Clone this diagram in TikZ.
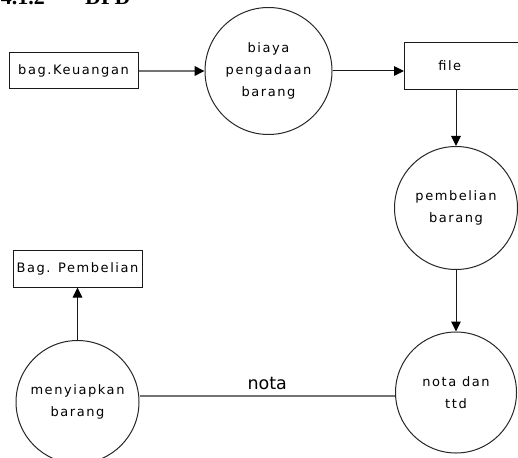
\documentclass[tikz,border=0pt]{standalone}
\usepackage{fontspec}
\setmainfont{DejaVu Sans}
\newfontfamily\dfdfont[LetterSpace=12]{DejaVu Sans}
\newfontfamily\headfont{Liberation Serif}
\usetikzlibrary{arrows.meta}

\begin{document}
\begin{tikzpicture}[x=1pt, y=-1pt,
  proc/.style={draw=black!85, line width=1pt, circle, inner sep=0pt,
    align=center, font=\dfdfont\fontsize{13}{22}\selectfont},
  ent/.style={draw=black!90, line width=1pt, rectangle, inner sep=0pt,
    minimum width=129pt, minimum height=36pt,
    font=\dfdfont\fontsize{13}{16}\selectfont},
  flow/.style={draw=black!90, line width=1pt,
    -{Triangle[length=10pt,width=9.5pt,black]}},
  link/.style={draw=black!55, line width=2pt}]

  \useasboundingbox (0,0) rectangle (518,457);

  % heading, only its lower edge shows
  \begin{scope}
    \clip (0,0) rectangle (518,457);
    \node[anchor=base east, inner sep=0pt,
      font=\headfont\bfseries\fontsize{22}{26}\selectfont] (hnum) at (45,5) {4.1.2};
    \node[anchor=base west, inner sep=0pt,
      font=\headfont\bfseries\fontsize{22}{26}\selectfont] (htitle) at (85,5) {DFD};
  \end{scope}

  % entities and processes
  \node[ent] (keu) at (73.5,71) {bag.Keuangan};
  \node[proc, minimum size=127pt] (biaya) at (268.5,71) {biaya\\pengadaan\\barang};
  \node[anchor=west, inner sep=0pt, minimum height=46pt, text width=57pt,
    align=right, font=\dfdfont\fontsize{13}{16}\selectfont] (file) at (404,66) {file\hspace*{10pt}};
  \coordinate (rim) at (518,66);
  \node[proc, minimum size=123pt] (beli) at (456,208) {pembelian\\barang};
  \node[proc, minimum size=121pt] (nota) at (456,392.5) {nota dan\\ttd};
  \node[proc, minimum size=123pt] (siap) at (77.5,402) {menyiapkan\\barang};
  \node[ent, minimum height=37pt] (pemb) at (77.5,268.5) {Bag. Pembelian};

  % data store drawn open on the right
  \draw[draw=black!90, line width=1pt]
    (file.north west -| rim) -- (file.north west)
    -- (file.south west) -- (file.south west -| rim);

  % flows
  \draw[flow, draw=black!55, line width=2pt] (keu.east) -- (biaya.west);
  \draw[flow] (biaya.east) -- (biaya.east -| file.west);
  \draw[flow] (beli.north |- file.south) -- (beli.north);
  \draw[flow] (beli.south) -- (nota.north);
  \draw[flow] (siap.north) -- (pemb.south);
  \draw[link] (nota.west |- 0,396) -- (siap.east |- 0,396)
    node[midway, above=5pt, inner sep=0pt,
      font=\fontsize{17.5}{20}\selectfont] (lbl) {nota};

\end{tikzpicture}
\end{document}
